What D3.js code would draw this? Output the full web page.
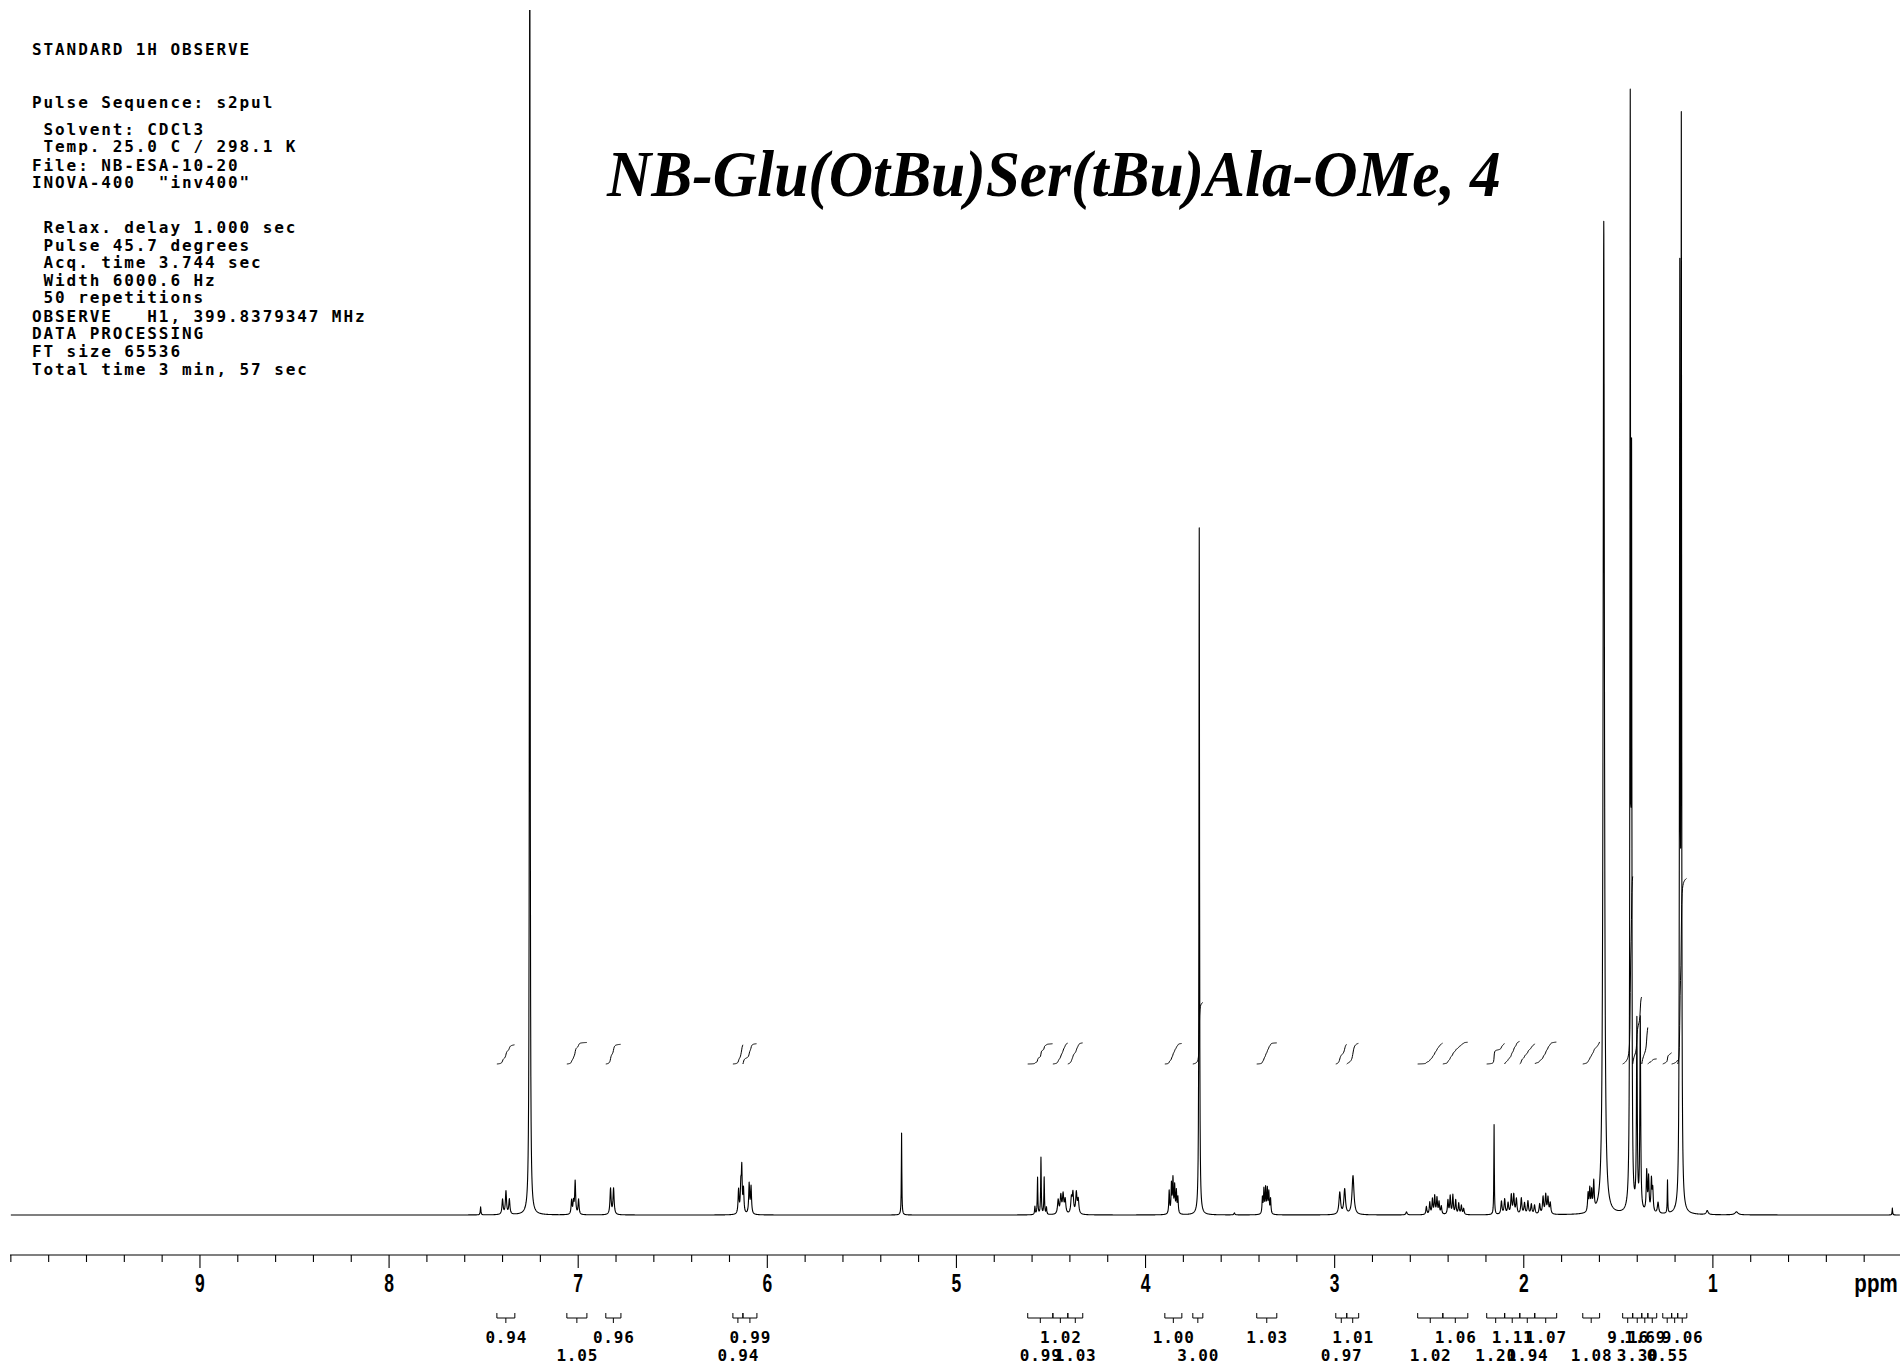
<!DOCTYPE html>
<html><head><meta charset="utf-8">
<script src="https://cdn.jsdelivr.net/npm/d3@7"></script>
<style>
html,body{margin:0;padding:0;background:#fff;}
svg{display:block;}
</style></head><body>
<svg id="c" width="1900" height="1366"></svg>
<script>
// ---------------- DATA ----------------
const headerLines = [
  "STANDARD 1H OBSERVE",
  "Pulse Sequence: s2pul",
  " Solvent: CDCl3",
  " Temp. 25.0 C / 298.1 K",
  "File: NB-ESA-10-20",
  "INOVA-400  \"inv400\"",
  " Relax. delay 1.000 sec",
  " Pulse 45.7 degrees",
  " Acq. time 3.744 sec",
  " Width 6000.6 Hz",
  " 50 repetitions",
  "OBSERVE   H1, 399.8379347 MHz",
  "DATA PROCESSING",
  "FT size 65536",
  "Total time 3 min, 57 sec"
];
const chartTitle = "NB-Glu(OtBu)Ser(tBu)Ala-OMe, 4";
const axisTickLabels = [9, 8, 7, 6, 5, 4, 3, 2, 1];
const axisUnit = "ppm";

// peak list: chemical shift (ppm), intensity, half-width (ppm)
const peakPpm = [
  7.516,
  7.400, 7.382, 7.364,
  7.256,
  7.035, 7.025, 7.016, 6.998,
  6.829, 6.813,
  6.152, 6.140, 6.135, 6.126, 6.096, 6.086,
  5.290,
  4.585, 4.571, 4.553, 4.536, 4.524,
  4.462, 4.448, 4.436, 4.425,
  4.392, 4.384, 4.366, 4.356,
  3.875, 3.863, 3.855, 3.846, 3.837, 3.829,
  3.716,
  3.530,
  3.382, 3.374, 3.365, 3.356, 3.348, 3.339,
  2.973, 2.947, 2.903,
  2.620,
  2.515, 2.497, 2.483, 2.471, 2.459, 2.448, 2.436,
  2.401, 2.389, 2.375, 2.360, 2.344, 2.330, 2.318,
  2.157,
  2.118, 2.101, 2.083, 2.066, 2.053, 2.039, 2.013, 1.996, 1.978, 1.960, 1.943, 1.916, 1.898, 1.884, 1.872, 1.860,
  1.660, 1.651, 1.641, 1.630,
  1.577,
  1.437, 1.430,
  1.402, 1.384,
  1.350, 1.340, 1.325, 1.318,
  1.290,
  1.240,
  1.175, 1.167,
  1.030, 0.875, 0.051
];
const peakIntensity = [
  8,
  15, 23, 15,
  1500,
  14, 12, 33, 15,
  26, 26,
  24, 28, 42, 24, 30, 27,
  82,
  8, 37, 57, 37, 7,
  14, 18, 19, 14,
  15, 20, 21, 14,
  23, 29, 34, 27, 22, 16,
  687,
  2,
  16, 24, 25, 24, 21, 15,
  22, 25, 39,
  3,
  8, 12, 15, 18, 16, 12, 8,
  14, 18, 19, 14, 11, 9, 6,
  90,
  13, 15, 11, 19, 19, 15, 16, 11, 13, 10, 9, 10, 17, 19, 16, 11,
  18, 22, 19, 28,
  993,
  1080, 700,
  188, 192,
  40, 34, 32, 22,
  11,
  33,
  900, 1055,
  4, 3, 7
];
const peakHalfWidth = [
  0.002,
  0.0035, 0.0035, 0.0035,
  0.0018,
  0.003, 0.003, 0.003, 0.003,
  0.0035, 0.0035,
  0.003, 0.003, 0.0025, 0.003, 0.003, 0.003,
  0.0015,
  0.002, 0.0018, 0.0018, 0.0018, 0.002,
  0.004, 0.004, 0.004, 0.004,
  0.004, 0.004, 0.004, 0.004,
  0.0025, 0.0025, 0.0025, 0.0025, 0.0025, 0.0025,
  0.0018,
  0.003,
  0.0025, 0.0025, 0.0025, 0.0025, 0.0025, 0.0025,
  0.005, 0.005, 0.006,
  0.004,
  0.003, 0.003, 0.003, 0.003, 0.003, 0.003, 0.003,
  0.003, 0.003, 0.003, 0.003, 0.003, 0.003, 0.003,
  0.0015,
  0.0035, 0.0035, 0.0035, 0.0035, 0.0035, 0.0035, 0.0035, 0.0035, 0.0035, 0.0035, 0.0035, 0.0035, 0.0035, 0.0035, 0.0035, 0.0035,
  0.003, 0.003, 0.003, 0.003,
  0.004,
  0.0019, 0.0018,
  0.0025, 0.0025,
  0.003, 0.003, 0.003, 0.003,
  0.004,
  0.0015,
  0.0019, 0.0019,
  0.006, 0.01, 0.0015
];

// integration regions (ppm), printed labels, and drawn integral-trace rise (in H units)
const intFrom  = [7.430, 7.060, 6.854, 6.182, 6.129, 4.623, 4.490, 4.411, 3.898, 3.750, 3.412, 2.994, 2.936, 2.561, 2.428, 2.196, 2.101, 2.021, 1.942, 1.688, 1.477, 1.424, 1.376, 1.344, 1.265, 1.218, 1.186];
const intTo    = [7.335, 6.954, 6.774, 6.129, 6.055, 4.490, 4.411, 4.332, 3.808, 3.697, 3.306, 2.936, 2.873, 2.428, 2.296, 2.101, 2.021, 1.942, 1.826, 1.599, 1.424, 1.376, 1.344, 1.297, 1.218, 1.186, 1.138];
const intLabel = ["0.94","1.05","0.96","0.94","0.99","0.99","1.02","1.03","1.00","3.00","1.03","0.97","1.01","1.02","1.06","1.20","1.11","1.94","1.07","1.08","9.16","3.30","1.69","","0.55","","9.06"];
const intTrace = [0.94, 1.05, 0.96, 0.94, 0.99, 0.99, 1.02, 1.03, 1.00, 3.00, 1.03, 0.97, 1.01, 1.02, 1.06, 1.05, 1.11, 1.0, 1.07, 1.08, 9.16, 3.30, 1.80, 0.25, 0.55, 0.2, 9.06];
const intRow   = [1,2,1,2,1,2,1,2,1,2,1,2,1,2,1,2,1,2,1,2,1,2,1,2,2,1,1];

// ---------------- DRAWING ----------------
const svg = d3.select("#c");
const W = 1900;
const x = d3.scaleLinear().domain([10, 0]).range([10.85, 1902]);
const y = d3.scaleLinear().domain([0, 1205]).range([1215, 10]);
const intY = d3.scaleLinear().domain([0, 10]).range([1064, 859]);

svg.append("rect").attr("width", W).attr("height", 1366).attr("fill", "#fff");
svg.append("defs").append("clipPath").attr("id", "plot")
  .append("rect").attr("x", 8).attr("y", 10).attr("width", W - 8).attr("height", 1235);

const peaks = peakPpm.map((p, i) => ({p, h: peakIntensity[i], g: peakHalfWidth[i]}));
function spec(v) {
  let s = 0;
  for (const k of peaks) { const d = v - k.p; s += k.h * k.g * k.g / (d * d + k.g * k.g); }
  return s;
}
function cum(v) {
  let s = 0;
  for (const k of peaks) s += k.h * k.g * Math.atan((v - k.p) / k.g);
  return s;
}

// spectrum trace
const ppmSamples = [];
for (let px = 10.85; px <= W; px += 0.25) ppmSamples.push(x.invert(px));
peakPpm.forEach(p => ppmSamples.push(p));
ppmSamples.sort((a, b) => b - a);
const specData = ppmSamples.map(p => [p, spec(p)]);
svg.append("path").datum(specData)
  .attr("clip-path", "url(#plot)")
  .attr("fill", "none").attr("stroke", "#000").attr("stroke-width", 1.1)
  .attr("stroke-linejoin", "round")
  .attr("d", d3.line().x(d => x(d[0])).y(d => y(d[1])));

// integral traces
const intLine = d3.line().x(d => d[0]).y(d => d[1]);
intFrom.forEach((a, i) => {
  const b = intTo[i];
  const total = cum(a) - cum(b);
  const pts = [];
  for (let px = x(a); px <= x(b) + 0.001; px += 0.4) {
    const v = x.invert(px);
    const frac = total > 1e-9 ? (cum(a) - cum(v)) / total : (px - x(a)) / (x(b) - x(a));
    pts.push([px, intY(frac * intTrace[i])]);
  }
  svg.append("path").datum(pts)
    .attr("clip-path", "url(#plot)")
    .attr("fill", "none").attr("stroke", "#000").attr("stroke-width", 1)
    .attr("d", intLine);
});

// axis
const axisY = 1255;
const axisG = svg.append("g");
axisG.append("line").attr("x1", 10).attr("x2", W).attr("y1", axisY).attr("y2", axisY)
  .attr("stroke", "#000").attr("stroke-width", 1.2);
const minorTicks = d3.range(0, 51).map(i => 10 - i * 0.2).filter(v => x(v) <= W);
axisG.selectAll("line.t").data(minorTicks).enter().append("line")
  .attr("x1", d => x(d)).attr("x2", d => x(d))
  .attr("y1", axisY)
  .attr("y2", d => axisTickLabels.some(t => Math.abs(t - d) < 1e-6) ? axisY + 13 : axisY + 7)
  .attr("stroke", "#000").attr("stroke-width", 1.1);
axisG.selectAll("text.tl").data(axisTickLabels).enter().append("text")
  .attr("transform", d => `translate(${x(d)},1292) scale(0.7,1)`)
  .attr("text-anchor", "middle")
  .attr("font-family", "'Liberation Sans', Arial, sans-serif")
  .attr("font-weight", "bold").attr("font-size", 25)
  .text(d => d);
axisG.append("text")
  .attr("transform", `translate(1876,1292) scale(0.82,1)`)
  .attr("text-anchor", "middle")
  .attr("font-family", "'Liberation Sans', Arial, sans-serif")
  .attr("font-weight", "bold").attr("font-size", 25)
  .text(axisUnit);

// integral brackets and values
const bG = svg.append("g");
intFrom.forEach((a, i) => {
  const x0 = x(a), x1 = x(intTo[i]), xm = (x0 + x1) / 2;
  bG.append("path")
    .attr("d", `M${x0},1313 V1318 H${x1} V1313 M${xm},1318 V1323`)
    .attr("fill", "none").attr("stroke", "#000").attr("stroke-width", 1);
  if (intLabel[i]) {
    bG.append("text")
      .attr("x", xm + 0.4).attr("y", intRow[i] === 1 ? 1343 : 1361)
      .attr("text-anchor", "middle")
      .attr("font-family", "'DejaVu Sans Mono', monospace")
      .attr("font-weight", "bold").attr("font-size", 16)
      .attr("letter-spacing", "0.8px")
      .text(intLabel[i]);
  }
});

// header parameters block
const headerY = [55, 108, 135, 152, 171, 188, 233, 251, 268, 286, 303, 322, 339, 357, 375];
svg.append("g").selectAll("text").data(headerLines).enter().append("text")
  .attr("x", 32).attr("y", (d, i) => headerY[i])
  .attr("font-family", "'DejaVu Sans Mono', monospace")
  .attr("font-weight", "bold").attr("font-size", 16)
  .attr("letter-spacing", "1.9px")
  .style("white-space", "pre")
  .text(d => d);

// title
const t = svg.append("text")
  .attr("font-family", "'Liberation Serif', 'Times New Roman', serif")
  .attr("font-weight", "bold").attr("font-style", "italic")
  .attr("font-size", 66)
  .text(chartTitle);
const tl = t.node().getComputedTextLength();
t.attr("transform", `translate(607,196) scale(${894 / tl},1)`);
</script>
</body></html>
